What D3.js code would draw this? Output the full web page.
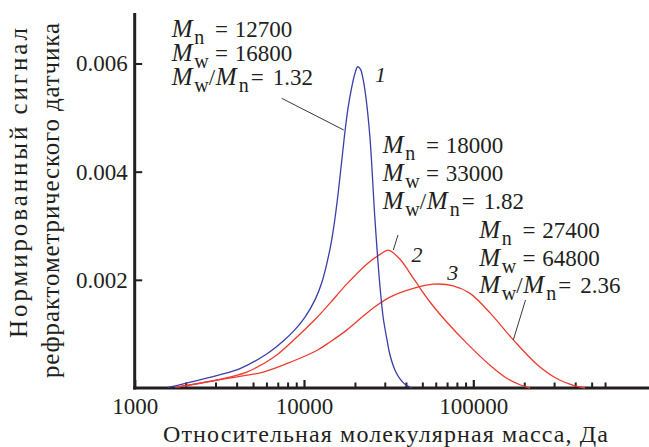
<!DOCTYPE html>
<html><head><meta charset="utf-8">
<script src="https://cdn.jsdelivr.net/npm/d3@7"></script>
<style>
html,body{margin:0;padding:0;background:#fff;}
svg{display:block;}
svg text{font-family:"Liberation Serif","DejaVu Serif","Liberation Sans",Arial,sans-serif;}
</style></head><body>
<svg id="chart" width="649" height="447"></svg>
<script>
// ---- data ----
const curve1M = [1573, 3050, 4190, 6020, 7545, 8847, 10140, 11610, 12770, 14240, 15040, 15940, 17350, 18190, 19080, 20010, 20760, 21570, 22310, 23240, 24540, 26270, 28120, 29400, 30930, 32210, 34480, 36900, 39500, 43450];
const curve1V = [0.00001, 0.00023, 0.00036, 0.00063, 0.00087, 0.00108, 0.00131, 0.00163, 0.00196, 0.00257, 0.00301, 0.00362, 0.00467, 0.00517, 0.00554, 0.00582, 0.00594, 0.00589, 0.00572, 0.00536, 0.00462, 0.00310, 0.00187, 0.00129, 0.00089, 0.00061, 0.00033, 0.00017, 0.00007, 0];
const curve2M = [1733, 3050, 4586, 6585, 9055, 11890, 14240, 17870, 23460, 28110, 31470, 36900, 44220, 55480, 69660, 91410, 125500, 157500, 188700, 216300];
const curve2V = [0.00001, 0.000148, 0.000295, 0.000563, 0.00094, 0.00130, 0.00157, 0.00192, 0.00229, 0.00247, 0.00255, 0.00238, 0.00203, 0.00159, 0.00122, 0.00083, 0.00042, 0.00018, 0.00006, 0];
const curve3M = [1803, 3337, 5749, 8647, 11890, 14240, 17870, 22400, 25670, 32210, 44220, 58020, 76200, 95600, 125500, 172300, 236900, 310900, 389600, 457000];
const curve3V = [0.00002, 0.000166, 0.000295, 0.000499, 0.000693, 0.00085, 0.00107, 0.00133, 0.00148, 0.00168, 0.00184, 0.00192, 0.00189, 0.00175, 0.00139, 0.00089, 0.00044, 0.000175, 0.00005, 0];

const curveLabels = ["1", "2", "3"];
const statsMn = ["12700", "18000", "27400"];
const statsMw = ["16800", "33000", "64800"];
const statsRatio = ["1.32", "1.82", "2.36"];

const yTicks = [0.002, 0.004, 0.006];
const xMajorTicks = [1000, 10000, 100000];
const xMinorTicks = [2000, 3000, 4000, 5000, 6000, 7000, 8000, 9000,
                     20000, 30000, 40000, 50000, 60000, 70000, 80000, 90000,
                     200000, 300000, 400000, 500000, 600000];

const yTitleLines = ["Нормированный сигнал", "рефрактометрического датчика"];
const xTitle = "Относительная молекулярная масса, Да";

// ---- layout ----
const W = 649, H = 447;
const ink = "#231f20";
const blue = "#3b3eaa";
const red = "#ee3b30";
const fam = '"Liberation Serif","DejaVu Serif","Liberation Sans",Arial,sans-serif';

const svg = d3.select("#chart").attr("font-family", fam);

const x = d3.scaleLog().domain([1000, 1e6]).range([134.7, 642.6]);
const y = d3.scaleLinear().domain([0, 0.006]).range([388, 63.5]);

const xAxisScale = x.copy().domain([1000, x.invert(W + 2)]).range([134.7, W + 2]);
const yAxisScale = y.copy().domain([0, y.invert(13)]).range([388, 13]);

const tickFont = 23;

// x axis: minor ticks
svg.append("g")
  .attr("transform", `translate(0,${y(0)})`)
  .call(d3.axisBottom(xAxisScale).tickValues(xMinorTicks).tickSize(-5.5).tickSizeOuter(0).tickFormat(""))
  .call(g => g.select(".domain").remove())
  .call(g => g.selectAll(".tick line").attr("stroke", ink).attr("stroke-width", 2));

// x axis: major ticks with labels
svg.append("g")
  .attr("transform", `translate(0,${y(0)})`)
  .call(d3.axisBottom(xAxisScale).tickValues(xMajorTicks).tickSize(-8).tickSizeOuter(0).tickPadding(10).tickFormat(d3.format("d")))
  .attr("font-family", fam)
  .call(g => g.select(".domain").attr("stroke", ink).attr("stroke-width", 3).attr("d", `M${x(1000) - 1.5},0H${W + 2}`))
  .call(g => g.selectAll(".tick line").attr("stroke", ink).attr("stroke-width", 2.2))
  .call(g => g.selectAll(".tick text").attr("fill", ink).attr("font-size", tickFont).attr("font-family", fam));

// y axis
svg.append("g")
  .attr("transform", `translate(${x(1000)},0)`)
  .call(d3.axisLeft(yAxisScale).tickValues(yTicks).tickSize(-7.5).tickSizeOuter(0).tickPadding(7).tickFormat(d3.format(".3f")))
  .attr("font-family", fam)
  .call(g => g.select(".domain").attr("stroke", ink).attr("stroke-width", 3).attr("d", `M0,${yAxisScale.range()[1]}V${y(0) + 1.5}`))
  .call(g => g.selectAll(".tick line").attr("stroke", ink).attr("stroke-width", 2))
  .call(g => g.selectAll(".tick text").attr("fill", ink).attr("font-size", tickFont).attr("font-family", fam));

// axis titles
svg.append("text")
  .attr("x", 385.5).attr("y", 442)
  .attr("text-anchor", "middle")
  .attr("font-size", 24).attr("fill", ink)
  .attr("textLength", 445).attr("lengthAdjust", "spacing")
  .text(xTitle);

const yTitlePos = [{cx: 183, base: 27, len: 310}, {cx: 200.5, base: 59, len: 355}];
yTitleLines.forEach((t, i) => {
  svg.append("text")
    .attr("transform", `translate(${yTitlePos[i].base},${yTitlePos[i].cx}) rotate(-90)`)
    .attr("text-anchor", "middle")
    .attr("font-size", 25).attr("fill", ink)
    .attr("textLength", yTitlePos[i].len).attr("lengthAdjust", "spacing")
    .text(t);
});

// curves
const line = d3.line()
  .x(d => x(d[0]))
  .y(d => y(d[1]))
  .curve(d3.curveCatmullRom.alpha(0.5));

const series = [
  {M: curve2M, V: curve2V, color: red},
  {M: curve3M, V: curve3V, color: red},
  {M: curve1M, V: curve1V, color: blue}
];
series.forEach(s => {
  svg.append("path")
    .datum(s.M.map((m, i) => [m, s.V[i]]))
    .attr("d", line)
    .attr("fill", "none")
    .attr("stroke", s.color)
    .attr("stroke-width", 1.3);
});

// leader lines
const leaders = [
  [[281.7, 98.3], [343.8, 130]],
  [[398, 235], [393.3, 250]],
  [[525.5, 300], [513.3, 340]]
];
leaders.forEach(l => {
  svg.append("line")
    .attr("x1", l[0][0]).attr("y1", l[0][1])
    .attr("x2", l[1][0]).attr("y2", l[1][1])
    .attr("stroke", "#3a3a3a").attr("stroke-width", 1);
});

// curve number labels
const labelPos = [[375, 81.7], [411.5, 261.7], [447.3, 280]];
curveLabels.forEach((t, i) => {
  svg.append("text")
    .attr("x", labelPos[i][0]).attr("y", labelPos[i][1])
    .attr("font-size", 22).attr("font-style", "italic").attr("fill", ink)
    .text(t);
});

// stats blocks
const blockPos = [
  {x: 171.7, rows: [36.7, 60.5, 85]},
  {x: 382.7, rows: [153.3, 181, 209]},
  {x: 479.3, rows: [238.3, 266.3, 293.3]}
];
const mFont = 25, mainFont = 23, subFont = 20, subShift = 7;

function part(t, dx, text, opts = {}) {
  const s = t.append("tspan").attr("x", dx).text(text);
  if (opts.italic) s.attr("font-style", "italic");
  if (opts.size) s.attr("font-size", opts.size);
  if (opts.dy !== undefined) s.attr("dy", opts.dy);
  return s;
}
function statRow(x0, base, sub, value) {
  const t = svg.append("text").attr("y", base)
    .attr("font-size", mainFont).attr("fill", ink);
  part(t, x0, "M", {italic: true, size: mFont});
  part(t, x0 + 22.5, sub, {size: subFont, dy: subShift});
  part(t, x0 + 43.3, "=", {dy: -subShift});
  part(t, x0 + 63, value);
}
function ratioRow(x0, base, value) {
  const t = svg.append("text").attr("y", base)
    .attr("font-size", mainFont).attr("fill", ink);
  part(t, x0, "M", {italic: true, size: mFont});
  part(t, x0 + 22.5, "w", {size: subFont, dy: subShift});
  part(t, x0 + 37, "/", {dy: -subShift});
  part(t, x0 + 44, "M", {italic: true, size: mFont});
  part(t, x0 + 67, "n", {size: subFont, dy: subShift});
  part(t, x0 + 79, "=", {dy: -subShift});
  part(t, x0 + 101, value);
}
blockPos.forEach((b, i) => {
  statRow(b.x, b.rows[0], "n", statsMn[i]);
  statRow(b.x, b.rows[1], "w", statsMw[i]);
  ratioRow(b.x, b.rows[2], statsRatio[i]);
});
</script>
</body></html>
